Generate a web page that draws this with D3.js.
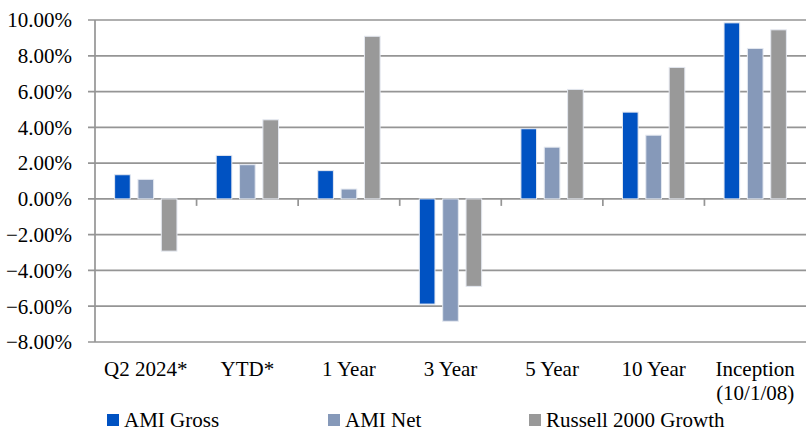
<!DOCTYPE html>
<html>
<head>
<meta charset="utf-8">
<script src="https://cdn.jsdelivr.net/npm/d3@7"></script>
<style>
  body { margin: 0; background: #fff; }
  text { font-family: "Liberation Serif", "Times New Roman", serif; fill: #000; }
</style>
</head>
<body>
<div id="chart"></div>
<script>
// categories and series
var categories = ["Q2 2024*", "YTD*", "1 Year", "3 Year", "5 Year", "10 Year", "Inception\n(10/1/08)"];
var seriesNames = ["AMI Gross", "AMI Net", "Russell 2000 Growth"];
var amiGross = [1.35, 2.43, 1.58, -5.88, 3.92, 4.85, 9.84];
var amiNet = [1.09, 1.91, 0.55, -6.84, 2.89, 3.56, 8.41];
var russell = [-2.92, 4.42, 9.09, -4.89, 6.12, 7.35, 9.45];
var yTicks = [10, 8, 6, 4, 2, 0, -2, -4, -6, -8];

var colors = ["#0052c2", "#8699b9", "#999999"];

var width = 806, height = 430;
// plot area (note: "top" is taken by window.top)
var margin = {left: 95, right: 806, top: 20, bottom: 342};

var svg = d3.select("#chart").append("svg")
    .attr("width", width)
    .attr("height", height);

var series = [amiGross, amiNet, russell];
var rows = categories.map(function(c, i) {
    return { cat: c, values: series.map(function(s, j) { return { name: seriesNames[j], value: s[i], idx: j }; }) };
});

var x0 = d3.scaleBand().domain(categories).range([margin.left, margin.right]).paddingInner(0).paddingOuter(0);
var x1 = d3.scaleBand().domain(seriesNames).range([0, x0.bandwidth()]).paddingInner(0.33).paddingOuter(0.84);
var y = d3.scaleLinear().domain([-8, 10]).range([margin.bottom, margin.top]);

// gridlines
svg.append("g")
    .selectAll("line")
    .data(yTicks)
    .enter().append("line")
    .attr("x1", margin.left - 7)
    .attr("x2", margin.right)
    .attr("y1", function(d) { return y(d); })
    .attr("y2", function(d) { return y(d); })
    .attr("stroke", "#959595")
    .attr("stroke-width", 1.7);

// y axis line
svg.append("line")
    .attr("x1", margin.left).attr("x2", margin.left)
    .attr("y1", margin.top).attr("y2", margin.bottom)
    .attr("stroke", "#959595")
    .attr("stroke-width", 1.7);

// category ticks on the zero line
svg.append("g")
    .selectAll("line")
    .data(categories.slice(1))
    .enter().append("line")
    .attr("x1", function(d) { return x0(d); })
    .attr("x2", function(d) { return x0(d); })
    .attr("y1", y(0))
    .attr("y2", y(0) + 7)
    .attr("stroke", "#959595")
    .attr("stroke-width", 1.7);

// bars
var groups = svg.append("g")
    .selectAll("g")
    .data(rows)
    .enter().append("g")
    .attr("transform", function(d) { return "translate(" + x0(d.cat) + ",0)"; });

groups.selectAll("rect")
    .data(function(d) { return d.values; })
    .enter().append("rect")
    .attr("x", function(d) { return x1(d.name); })
    .attr("width", x1.bandwidth())
    .attr("y", function(d) { return y(Math.max(0, d.value)); })
    .attr("height", function(d) { return Math.abs(y(d.value) - y(0)); })
    .attr("fill", function(d) { return colors[d.idx]; })
    .attr("stroke", "#e4e8f0")
    .attr("stroke-width", 1);

// y tick labels
svg.append("g")
    .selectAll("text")
    .data(yTicks)
    .enter().append("text")
    .attr("x", 72)
    .attr("y", function(d) { return y(d); })
    .attr("dy", "0.35em")
    .attr("text-anchor", "end")
    .style("font-size", "21px")
    .text(function(d) { return d3.format(".2f")(d) + "%"; });

// x labels
var xl = svg.append("g")
    .selectAll("text")
    .data(categories)
    .enter().append("text")
    .attr("x", function(d) { return x0(d) + x0.bandwidth() / 2; })
    .attr("y", 376)
    .attr("text-anchor", "middle")
    .style("font-size", "21px");

xl.selectAll("tspan")
    .data(function(d) { return d.split("\n"); })
    .enter().append("tspan")
    .attr("x", function() { return this.parentNode.getAttribute("x"); })
    .attr("dy", function(d, i) { return i == 0 ? 0 : 24; })
    .text(function(d) { return d; });

// legend
var legendX = [107, 328, 529];
var legend = svg.append("g")
    .selectAll("g")
    .data(seriesNames)
    .enter().append("g")
    .attr("transform", function(d, i) { return "translate(" + legendX[i] + ",414)"; });

legend.append("rect")
    .attr("width", 12).attr("height", 12)
    .attr("fill", function(d, i) { return colors[i]; });

legend.append("text")
    .attr("x", 17)
    .attr("y", 13)
    .style("font-size", "21px")
    .text(function(d) { return d; });
</script>
</body>
</html>
